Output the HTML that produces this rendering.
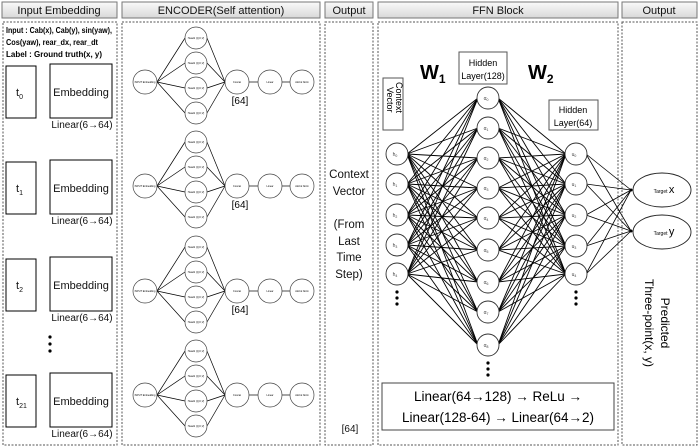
<!DOCTYPE html>
<html><head><meta charset="utf-8">
<style>
html,body{margin:0;padding:0;background:#fff;}
svg{display:block;font-family:"Liberation Sans",Arial,sans-serif;}
</style></head>
<body>
<svg id="s" width="700" height="448" viewBox="0 0 700 448" xmlns="http://www.w3.org/2000/svg">
<defs>
<linearGradient id="hg" x1="0" y1="0" x2="0" y2="1">
<stop offset="0" stop-color="#fafafa"/><stop offset="1" stop-color="#d8d8d8"/>
</linearGradient>
</defs>
<g id="hdr" font-size="11" text-anchor="middle" fill="#111">
<rect x="2" y="2" width="115" height="16" fill="url(#hg)" stroke="#777"/>
<text x="59" y="14">Input Embedding</text>
<rect x="122" y="2" width="198" height="16" fill="url(#hg)" stroke="#777"/>
<text x="221" y="14">ENCODER(Self attention)</text>
<rect x="325" y="2" width="48" height="16" fill="url(#hg)" stroke="#777"/>
<text x="349" y="14">Output</text>
<rect x="378" y="2" width="240" height="16" fill="url(#hg)" stroke="#777"/>
<text x="498" y="14">FFN Block</text>
<rect x="622" y="2" width="75" height="16" fill="url(#hg)" stroke="#777"/>
<text x="659" y="14">Output</text>
</g>
<g fill="none" stroke="#555" stroke-dasharray="2,1.5" stroke-width="1">
<rect x="3" y="22" width="114" height="423"/>
<rect x="122" y="22" width="198" height="423"/>
<rect x="325" y="22" width="48" height="423"/>
<rect x="378" y="22" width="240" height="423"/>
<rect x="622" y="22" width="75" height="423"/>
</g>
<g font-size="8.5" font-weight="bold" fill="#000">
<text x="6" y="33" textLength="106" lengthAdjust="spacingAndGlyphs">Input : Cab(x), Cab(y), sin(yaw),</text>
<text x="6" y="45" textLength="92" lengthAdjust="spacingAndGlyphs">Cos(yaw), rear_dx, rear_dt</text>
<text x="6" y="57" textLength="96" lengthAdjust="spacingAndGlyphs">Label : Ground truth(x, y)</text>
</g>
<g id="inp" fill="none" stroke="#000" stroke-width="1"></g>
<g id="enc"></g>
<g font-size="11.5" text-anchor="middle" fill="#111">
<text x="349" y="178">Context</text>
<text x="349" y="195">Vector</text>
<text x="349" y="228">(From</text>
<text x="349" y="245">Last</text>
<text x="349" y="261">Time</text>
<text x="349" y="278">Step)</text>
<text x="350" y="432" font-size="10">[64]</text>
</g>
<g id="ffn"></g>
</svg>
<script>
var NS="http://www.w3.org/2000/svg";
function el(p,t,a,txt){var e=document.createElementNS(NS,t);for(var k in a)e.setAttribute(k,a[k]);if(txt!==undefined)e.textContent=txt;p.appendChild(e);return e;}
var inp=document.getElementById('inp');
var rows=[[64,'0'],[160,'1'],[257,'2'],[373,'21']];
rows.forEach(function(r){
 var y=r[0];
 el(inp,'rect',{x:6,y:y+2,width:30,height:52});
 el(inp,'rect',{x:50,y:y,width:62,height:54});
 var t=el(inp,'text',{x:16,y:y+32,'font-size':11,fill:'#111',stroke:'none'},'t');
 el(t,'tspan',{dy:3,'font-size':7},r[1]);
 el(inp,'text',{x:81,y:y+32,'font-size':11,fill:'#111',stroke:'none','text-anchor':'middle'},'Embedding');
 el(inp,'text',{x:82,y:y+64,'font-size':10,fill:'#111',stroke:'none','text-anchor':'middle'},'Linear(6\u219264)');
});
[337,344,351].forEach(function(y){el(inp,'circle',{cx:50,cy:y,r:1.6,fill:'#000',stroke:'none'});});

var enc=document.getElementById('enc');
[82,186,291,395].forEach(function(c,i){
 var hy=[c-44,c-19,c+6,c+31];
 hy.forEach(function(y){
  el(enc,'line',{x1:157,y1:c,x2:185,y2:y,stroke:'#000','stroke-width':0.7});
  el(enc,'line',{x1:207,y1:y,x2:225,y2:c,stroke:'#000','stroke-width':0.7});
 });
 el(enc,'line',{x1:249,y1:c,x2:258,y2:c,stroke:'#000','stroke-width':0.7});
 el(enc,'line',{x1:282,y1:c,x2:290,y2:c,stroke:'#000','stroke-width':0.7});
 el(enc,'circle',{cx:145,cy:c,r:12,fill:'#fff',stroke:'#444','stroke-width':0.7});
 el(enc,'text',{x:145,y:c+1,'font-size':2.5,'text-anchor':'middle'},'INPUT Embedding');
 hy.forEach(function(y){
  el(enc,'circle',{cx:196,cy:y,r:11,fill:'#fff',stroke:'#444','stroke-width':0.7});
  el(enc,'text',{x:196,y:y+1,'font-size':2.5,'text-anchor':'middle'},'Head1 (Q,K,V)');
 });
 el(enc,'circle',{cx:237,cy:c,r:12,fill:'#fff',stroke:'#444','stroke-width':0.7});
 el(enc,'text',{x:237,y:c+1,'font-size':2.5,'text-anchor':'middle'},'Concat');
 el(enc,'circle',{cx:270,cy:c,r:12,fill:'#fff',stroke:'#444','stroke-width':0.7});
 el(enc,'text',{x:270,y:c+1,'font-size':2.5,'text-anchor':'middle'},'Linear');
 el(enc,'circle',{cx:302,cy:c,r:12,fill:'#fff',stroke:'#444','stroke-width':0.7});
 el(enc,'text',{x:302,y:c+1,'font-size':2.5,'text-anchor':'middle'},'Add & Norm');
 if(i<3) el(enc,'text',{x:240,y:c+22,'font-size':10,'text-anchor':'middle'},'[64]');
});

var f=document.getElementById('ffn');
var hY=[154,184,215,245,274], aY=[98,128,158,188,218,250,282,312,345], uY=[154,184,215,246,274];
var HX=397,AX=488,UX=576;
hY.forEach(function(h){aY.forEach(function(a){el(f,'line',{x1:HX+10,y1:h,x2:AX-10,y2:a,stroke:'#000','stroke-width':0.9});});});
aY.forEach(function(a){uY.forEach(function(u){el(f,'line',{x1:AX+10,y1:a,x2:UX-10,y2:u,stroke:'#000','stroke-width':0.9});});});
uY.forEach(function(u){[190,231].forEach(function(t){el(f,'line',{x1:UX+10,y1:u,x2:631,y2:t,stroke:'#000','stroke-width':0.8});});});
el(f,'circle',{cx:631,cy:190,r:1.5,fill:'#000'});el(f,'circle',{cx:631,cy:231,r:1.5,fill:'#000'});
function node(x,y,l,s){el(f,'circle',{cx:x,cy:y,r:11,fill:'#fff',stroke:'#333','stroke-width':0.9});var t=el(f,'text',{x:x-2,y:y+2,'font-size':5,fill:'#444','text-anchor':'middle'},l);el(t,'tspan',{'font-size':3.5,dy:1},s);}
hY.forEach(function(y,i){node(HX,y,'h',i);});
aY.forEach(function(y,i){node(AX,y,'\u03b1',i);});
uY.forEach(function(y,i){node(UX,y,'u',i);});
[[HX,292],[HX,298],[HX,304],[UX,292],[UX,298],[UX,304],[AX,363],[AX,369],[AX,375]].forEach(function(p){el(f,'circle',{cx:p[0],cy:p[1],r:1.6,fill:'#000'});});
var w=el(f,'text',{x:420,y:79,'font-size':20,'font-weight':'bold'},'W');el(w,'tspan',{'font-size':12,dy:4},'1');
w=el(f,'text',{x:528,y:79,'font-size':20,'font-weight':'bold'},'W');el(w,'tspan',{'font-size':12,dy:4},'2');
el(f,'rect',{x:459,y:52,width:48,height:32,fill:'#fff',stroke:'#555'});
el(f,'text',{x:483,y:66,'font-size':9,'text-anchor':'middle'},'Hidden');
el(f,'text',{x:483,y:79,'font-size':9,'text-anchor':'middle'},'Layer(128)');
el(f,'rect',{x:549,y:100,width:49,height:30,fill:'#fff',stroke:'#555'});
el(f,'text',{x:573,y:113,'font-size':9,'text-anchor':'middle'},'Hidden');
el(f,'text',{x:573,y:126,'font-size':9,'text-anchor':'middle'},'Layer(64)');
el(f,'rect',{x:383,y:78,width:20,height:52,fill:'#fff',stroke:'#555'});
el(f,'text',{x:0,y:0,'font-size':9,transform:'translate(396,82) rotate(90)'},'Context');
el(f,'text',{x:0,y:0,'font-size':9,transform:'translate(387,87) rotate(90)'},'Vector');
[[662,190,'x'],[662,232,'y']].forEach(function(t){
 el(f,'ellipse',{cx:t[0],cy:t[1],rx:29,ry:17,fill:'#fff',stroke:'#222','stroke-width':0.9});
 var tt=el(f,'text',{x:t[0]+2,y:t[1]+3,'font-size':5,'text-anchor':'middle'},'Target ');
 el(tt,'tspan',{'font-size':11},t[2]);
});
el(f,'text',{x:0,y:0,'font-size':12,'text-anchor':'middle',transform:'translate(661,323) rotate(90)'},'Predicted');
el(f,'text',{x:0,y:0,'font-size':12,'text-anchor':'middle',transform:'translate(645,323) rotate(90)'},'Three-point(x, y)');
el(f,'rect',{x:382,y:383,width:232,height:47,fill:'#fff',stroke:'#444'});
el(f,'text',{x:498,y:401,'font-size':13.5,'text-anchor':'middle'},'Linear(64\u2192128)  \u2192  ReLu  \u2192');
el(f,'text',{x:498,y:422,'font-size':13.5,'text-anchor':'middle'},'Linear(128-64)  \u2192  Linear(64\u21922)');
</script>
</body></html>
